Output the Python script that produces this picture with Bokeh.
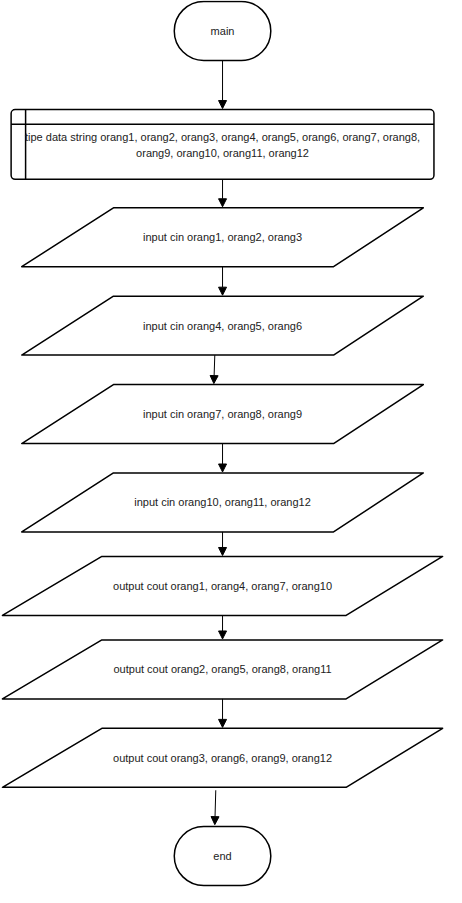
from bokeh.plotting import figure
from bokeh.models import BoxAnnotation, Arrow, NormalHead, Range1d
from bokeh.core.properties import value
from bokeh.embed import file_html
from bokeh.resources import INLINE

# terminators (main / end)
term_labels = ["main", "end"]
term_top = [1, 841]
term_left, term_right, term_h = 180, 280, 60

# predefined process box
decl_lines = ["tipe data string orang1, orang2, orang3, orang4, orang5, orang6, orang7, orang8,",
              "orang9, orang10, orang11, orang12"]
decl_box = (11, 449, 111, 182)  # left, right, top, bottom

# parallelograms: input (narrower) and output (wider)
io_labels = ["input cin orang1, orang2, orang3",
             "input cin orang4, orang5, orang6",
             "input cin orang7, orang8, orang9",
             "input cin orang10, orang11, orang12",
             "output cout orang1, orang4, orang7, orang10",
             "output cout orang2, orang5, orang8, orang11",
             "output cout orang3, orang6, orang9, orang12"]
io_top = [211, 301, 391, 481, 566, 651, 741]
io_kind = ["in", "in", "in", "in", "out", "out", "out"]
io_h = 60
corners = {"in": (117, 438, 345, 22), "out": (105, 458, 358, 2)}  # top-left, top-right, bottom-right, bottom-left

# arrows (x_start, y_start, x_end, y_end)
arrows = [(230, 61, 230, 110), (230, 182, 230, 210), (230, 271, 230, 300),
          (222, 361, 221, 390), (230, 451, 230, 480), (230, 541, 230, 565),
          (230, 626, 230, 650), (230, 711, 230, 740), (223, 804, 222, 839)]

FONT = value("Liberation Sans")

p = figure(width=446, height=887, output_backend="svg", toolbar_location=None,
           x_range=Range1d(0, 462), y_range=Range1d(903, 0), min_border=0)
p.axis.visible = False
p.grid.visible = False
p.outline_line_color = None

for lab, t in zip(term_labels, term_top):
    p.add_layout(BoxAnnotation(left=term_left, right=term_right, top=t, bottom=t + term_h,
                               border_radius=30, fill_color="white", fill_alpha=1,
                               line_color="black", line_alpha=1, line_width=1.5,
                               level="underlay"))
    p.text([230], [t + term_h / 2], text=[lab], text_align="center", text_baseline="middle",
           text_font=FONT, text_font_size="11px", text_color="#222222")

l, r, t, b = decl_box
p.add_layout(BoxAnnotation(left=l, right=r, top=t, bottom=b, border_radius=4,
                           fill_color="white", fill_alpha=1, line_color="black", line_alpha=1,
                           line_width=1.5, level="underlay"))
p.segment([l + 15, l], [t, t + 15], [l + 15, r], [b, t + 15], line_color="black", line_width=1.5)
p.text([230, 230], [t + 28, t + 44], text=decl_lines, text_align="center", text_baseline="middle",
       text_font=FONT, text_font_size="11px", text_color="#222222")

xs, ys = [], []
for top, k in zip(io_top, io_kind):
    tl, tr, br, bl = corners[k]
    xs.append([tl, tr, br, bl])
    ys.append([top, top, top + io_h, top + io_h])
p.patches(xs, ys, fill_color="white", line_color="black", line_width=1.5, line_join="round")
p.text([230] * len(io_labels), [tp + io_h / 2 for tp in io_top], text=io_labels,
       text_align="center", text_baseline="middle", text_font=FONT, text_font_size="11px",
       text_color="#222222")

for x0, y0, x1, y1 in arrows:
    p.add_layout(Arrow(x_start=x0, y_start=y0, x_end=x1, y_end=y1, line_width=1,
                       end=NormalHead(size=8, fill_color="black", line_color="black")))

open("out.html", "w").write(file_html(p, INLINE))
